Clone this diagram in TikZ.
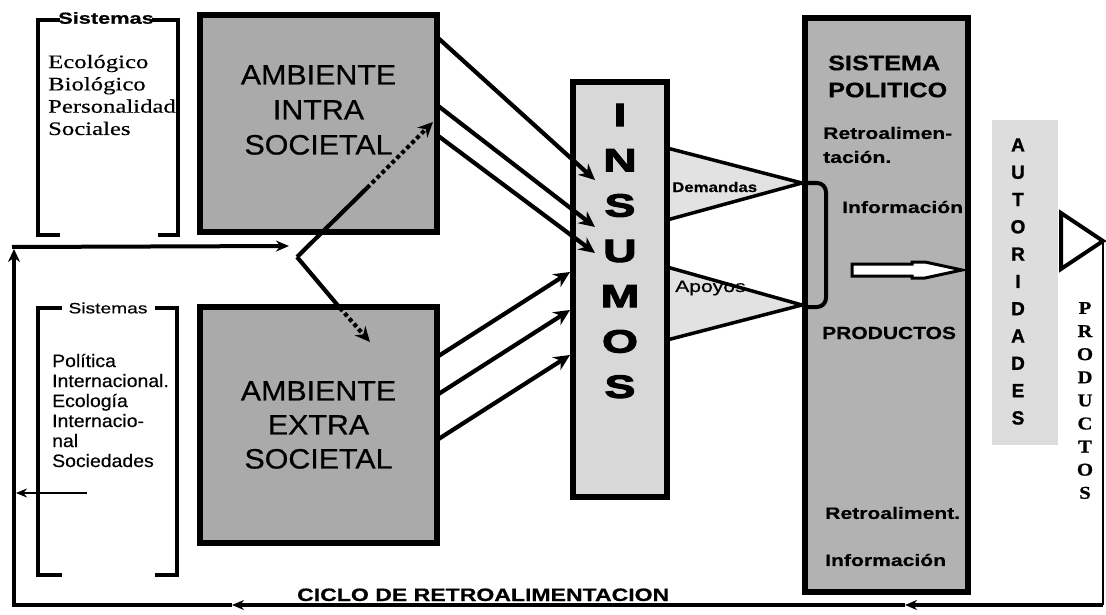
\documentclass[tikz,border=0pt]{standalone}
\usepackage{graphicx}
\usepackage{fontspec}
\setmainfont{Liberation Serif}
\setsansfont{Liberation Sans}
\newfontfamily\sansA{Liberation Sans}[FakeStretch=1.085, FakeBold=0.6]
\newfontfamily\sansB{Liberation Sans}[FakeStretch=1.08, FakeBold=0.4]
\newfontfamily\sansC{Liberation Sans}[FakeStretch=1.2, FakeBold=0.5]
\newfontfamily\sansD{Liberation Sans}[FakeStretch=1.28, FakeBold=0.5]
\newfontfamily\sansE{Liberation Sans}[FakeStretch=1.36, FakeBold=0.8]
\newfontfamily\serifA{Liberation Serif}[FakeStretch=1.3, FakeBold=0.4]
\newfontfamily\serifB{Liberation Serif}[FakeStretch=1.15, FakeBold=0.8]
\newfontface\blackA{Liberation Sans Bold}[FakeBold=3.5, FakeStretch=1.45]
\newfontface\blackB{Liberation Sans Bold}[FakeBold=1.2]
\usetikzlibrary{arrows.meta}
\newcommand\fs[2]{\fontsize{#1pt}{#2pt}\selectfont}
\definecolor{ambgray}{RGB}{170,170,170}
\definecolor{polgray}{RGB}{178,178,178}
\definecolor{insgray}{RGB}{216,216,216}
\definecolor{autgray}{RGB}{221,221,221}
\definecolor{conegray}{RGB}{226,226,226}
\tikzset{
  box/.style={draw, line width=5.5pt, inner sep=0pt, outer sep=0pt},
  lbl/.style={inner sep=0pt, align=left, anchor=west},
  flow/.style={line width=4.2pt, -{Stealth[length=16pt,width=15pt]}},
  dotflow/.style={line width=4.2pt, dash pattern=on 4pt off 3pt, -{Stealth[length=15pt,width=14pt]}},
  brk/.style={line width=3.5pt},
  fb/.style={line width=4pt, -{Stealth[length=12pt,width=10pt]}},
}
\begin{document}
\begin{tikzpicture}[x=1pt,y=-1pt]
\useasboundingbox (0,0) rectangle (1106,615);
\fill[white] (0,0) rectangle (1106,615);

% cones
\coordinate (dtip) at (802,183);
\coordinate (atip) at (802,305);
\filldraw[fill=conegray, line width=3.5pt, line join=round] (667,148) -- (dtip) -- (667,220);
\filldraw[fill=conegray, line width=3.5pt, line join=round] (667,267) -- (atip) -- (667,340);

% brackets
\draw[brk] (60,20) -- (38,20) -- (38,235) -- (60,235);
\draw[brk] (152,20) -- (178,20) -- (178,235) -- (158,235);
\draw[brk] (62,308) -- (38,308) -- (38,575) -- (62,575);
\draw[brk] (155,308) -- (177,308) -- (177,575) -- (155,575);
\node[font=\sansE\bfseries\fs{16}{16}, inner sep=0pt] (s1) at (106,18) {Sistemas};
\node[font=\sansD\fs{15}{15}, inner sep=0pt] (s2) at (108,308) {Sistemas};
\node[font=\serifA\fs{19}{22.3}, lbl] (sys1txt) at (48,95) {Ecológico\\Biológico\\Personalidad\\Sociales};
\node[font=\sansB\fs{18}{20}, lbl] (sys2txt) at (52,410.5) {Política\\Internacional.\\Ecología\\Internacio-\\nal\\Sociedades};

% main boxes
\node[box, fill=ambgray, minimum width=237pt, minimum height=217pt] (intra) at (318.5,123.5) {};
\node[font=\sansA\fs{28}{35}, align=center, inner sep=0pt] (intratxt) at (318.5,110) {AMBIENTE\\INTRA\\SOCIETAL};
\node[box, fill=ambgray, minimum width=237pt, minimum height=236pt, font=\sansA\fs{28}{34}, align=center] (extra) at (318.5,425) {AMBIENTE\\EXTRA\\SOCIETAL};

\node[box, fill=insgray, minimum width=94pt, minimum height=415pt] (insumos) at (620,289.5) {};
\node[font=\blackA\fs{32}{45.3}, align=center, inner sep=0pt] (instxt) at (620,251) {I\\N\\S\\U\\M\\O\\S};

\node[box, fill=polgray, minimum width=163pt, minimum height=574pt] (sispol) at (886.5,305) {};
\node[font=\sansC\bfseries\fs{21}{27}, lbl] (spt) at (828,76.5) {SISTEMA\\POLITICO};
\node[font=\sansD\bfseries\fs{16.5}{24}, lbl] (rt1) at (823,145) {Retroalimen-\\tación.};
\node[font=\sansD\bfseries\fs{16.5}{16.5}, lbl] (inf1) at (842,207) {Información};
\node[font=\sansC\bfseries\fs{17.5}{17.5}, lbl] (prod) at (822,333) {PRODUCTOS};
\node[font=\sansD\bfseries\fs{16.5}{16.5}, lbl] (rt2) at (825,513) {Retroaliment.};
\node[font=\sansD\bfseries\fs{16.5}{16.5}, lbl] (inf2) at (825,560) {Información};
% hollow arrow
\draw[line width=3pt, fill=white, line join=miter] (852,264) -- (912,264) -- (912,262) -- (925,262) -- (962,270) -- (925,278) -- (912,278) -- (912,276) -- (852,276) -- cycle;

% rounded bracket
\draw[line width=4pt, rounded corners=9pt] (dtip) -- (826,183) -- (826,307) -- ([yshift=-2pt]atip);

\node[font=\sansC\bfseries\fs{14}{14}, lbl] (dem) at (672,187) {Demandas};
\node[font=\sansD\fs{16.5}{16.5}, lbl] (apo) at (675,288) {Apoyos};

% autoridades
\node[fill=autgray, minimum width=66pt, minimum height=325pt, inner sep=0pt] (aut) at (1025,282.5) {};
\node[font=\blackB\fs{19}{27.3}, align=center, inner sep=0pt] (auttxt) at (1018,281.5) {A\\U\\T\\O\\R\\I\\D\\A\\D\\E\\S};
\node[font=\serifB\bfseries\fs{18}{23.1}, align=center, inner sep=0pt] (prodv) at (1085,400.5) {P\\R\\O\\D\\U\\C\\T\\O\\S};

% triangle
\draw[line width=4pt, fill=white, line join=miter] (1061,213) -- (1103,241) -- (1061,269) -- cycle;

% feedback loop
\coordinate (tip) at (1103,241);
\coordinate (br) at (1103,605);
\coordinate (m1) at (905,605);
\coordinate (m2) at (232,605);
\coordinate (bl) at (14,605);
\coordinate (tlv) at (14,249);
\coordinate (tl) at (12,247);
\coordinate (fl) at (289,246);
\coordinate (vx) at (297,257);
\draw[line width=2.8pt] (tip) -- (br);
\draw[fb] (br) -- (m1);
\draw[fb] (m1) -- (m2);
\draw[line width=4.5pt, -{Stealth[length=13pt,width=12pt]}] (m2) -- (bl) -- (tlv);
\draw[line width=4pt, -{Stealth[length=13pt,width=11pt]}] (tl) -- (fl);
\node[font=\sansD\bfseries\fs{18}{18}, anchor=base west, inner sep=0pt] (ciclo) at (297,601) {CICLO DE RETROALIMENTACION};

% small arrow in lower bracket
\coordinate (sa) at (87,493);
\coordinate (sb) at (16,493);
\draw[line width=1.8pt, -{Stealth[length=11pt,width=9pt]}] (sa) -- (sb);

% flows
\coordinate (d1) at (367,188);
\coordinate (d2) at (340,308);
\draw[line width=4.2pt] (vx) -- (d1);
\draw[dotflow] (d1) -- ([xshift=-4pt,yshift=-107pt]intra.north east);
\draw[line width=4.2pt] (vx) -- (d2);
\draw[dotflow] (d2) -- ([xshift=170pt,yshift=-35pt]extra.north west);

% arrows into insumos
\draw[flow] ([yshift=-22pt]intra.north east) -- ([xshift=22pt,yshift=-98pt]insumos.north west);
\draw[flow] ([yshift=-90pt]intra.north east) -- ([xshift=22pt,yshift=-145pt]insumos.north west);
\draw[flow] ([yshift=-120pt]intra.north east) -- ([xshift=22pt,yshift=-171pt]insumos.north west);
\draw[flow] ([yshift=-50pt]extra.north east) -- ([xshift=-3pt,yshift=-190pt]insumos.north west);
\draw[flow] ([yshift=-88pt]extra.north east) -- ([xshift=-3pt,yshift=-228pt]insumos.north west);
\draw[flow] ([yshift=-133pt]extra.north east) -- ([xshift=-3pt,yshift=-273pt]insumos.north west);
\end{tikzpicture}
\end{document}
